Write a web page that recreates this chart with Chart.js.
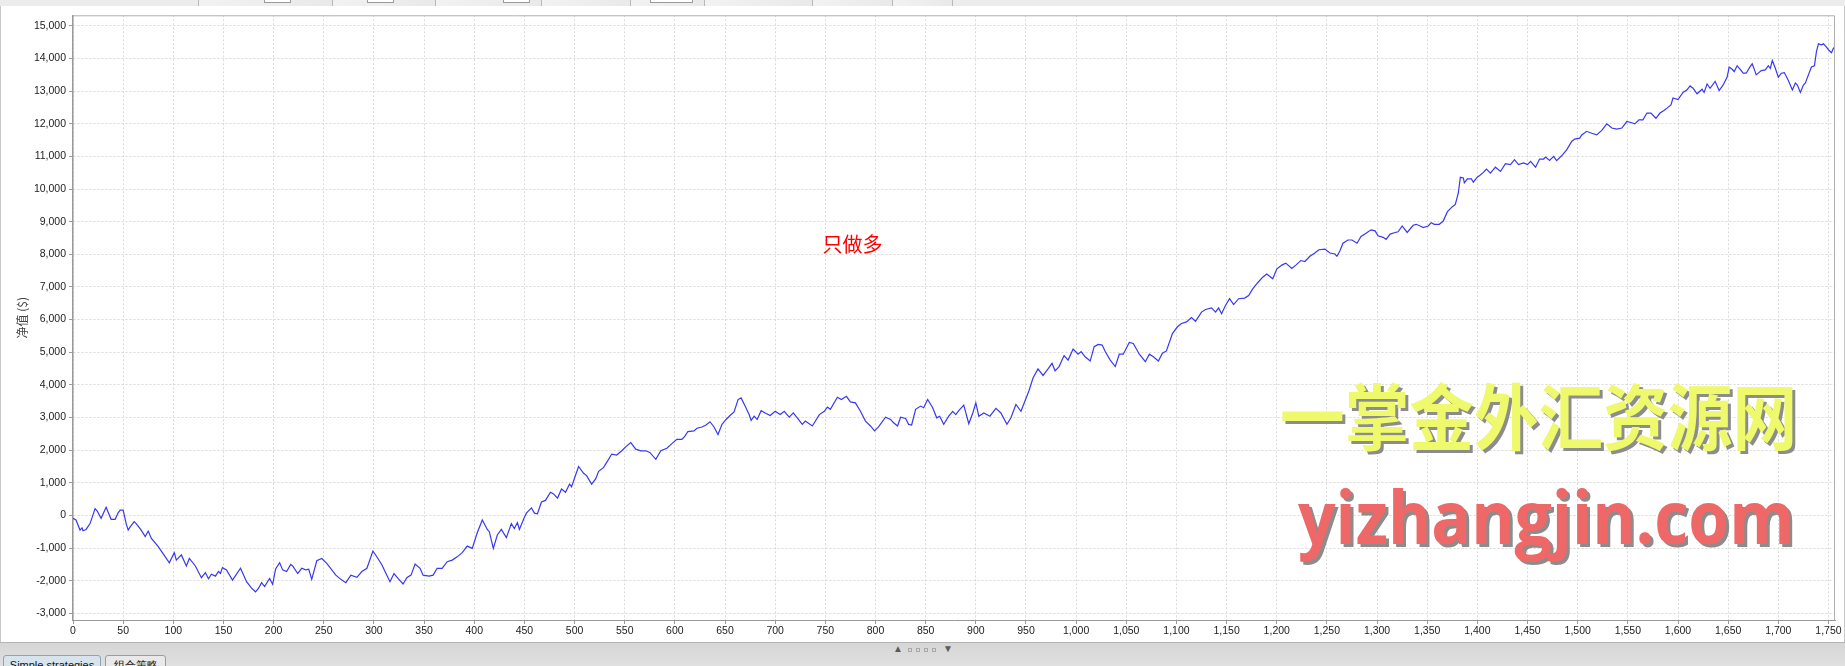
<!DOCTYPE html>
<html>
<head>
<meta charset="utf-8">
<title>净值</title>
<script src="https://cdn.jsdelivr.net/npm/chart.js@4.4.1/dist/chart.umd.min.js"></script>
<style>
  html, body { margin: 0; padding: 0; width: 1845px; height: 666px; overflow: hidden; background: #e4e4e4; font-family: "Liberation Sans", Arial, sans-serif; }
  #topbar { position: absolute; left: 0; top: 0; width: 1845px; height: 6px; background: #ececec; }
  .ttab { position: absolute; top: 0; height: 6px; border-left: 1px solid #b8b8b8; background: linear-gradient(90deg, #f2f2f2, #e9e9e9); box-sizing: border-box; }
  .tfield { position: absolute; top: 0; height: 2px; background: #fff; border: 1px solid #9a9a9a; border-top: none; }
  #panel { position: absolute; left: 0; top: 6px; width: 1845px; height: 636px; background: #fff; border-left: 1px solid #c8c8c8; border-right: 1px solid #c8c8c8; box-sizing: border-box; }
  #wrap { position: absolute; left: 0; top: 6px; width: 1845px; height: 636px; }
  #bottom { position: absolute; left: 0; top: 642px; width: 1845px; height: 24px; background: linear-gradient(#d6d6d6, #e0e0e0); border-top: 1px solid #b4b4b4; box-sizing: border-box; }
  .btab { position: absolute; top: 12px; height: 20px; border: 1px solid #9c9c9c; border-radius: 3px 3px 0 0; font-size: 11px; line-height: 14px; text-align: center; color: #111; box-sizing: border-box; padding-top: 2px; }
  .arrow { position: absolute; top: 1px; font-size: 10px; line-height: 10px; color: #5a5a5a; }
  .dot { position: absolute; top: 5px; width: 2px; height: 2px; border: 1px solid #a8a8a8; }
</style>
</head>
<body>
<div id="topbar">
  <div class="ttab" style="left:198px;width:134px"></div>
  <div class="ttab" style="left:332px;width:103px"></div>
  <div class="ttab" style="left:435px;width:106px"></div>
  <div class="ttab" style="left:541px;width:89px"></div>
  <div class="ttab" style="left:630px;width:74px"></div>
  <div class="ttab" style="left:704px;width:108px"></div>
  <div class="ttab" style="left:812px;width:80px"></div>
  <div class="ttab" style="left:892px;width:61px;border-right:1px solid #b8b8b8"></div>
  <div class="tfield" style="left:264px;width:25px"></div>
  <div class="tfield" style="left:367px;width:25px"></div>
  <div class="tfield" style="left:503px;width:25px"></div>
  <div class="tfield" style="left:650px;width:41px"></div>
</div>
<div id="panel"></div>
<div id="wrap"><canvas id="equityChart"></canvas></div>
<div id="bottom">
  <div class="arrow" style="left:893px">▲</div>
  <div class="dot" style="left:908px"></div>
  <div class="dot" style="left:916px"></div>
  <div class="dot" style="left:924px"></div>
  <div class="dot" style="left:932px"></div>
  <div class="arrow" style="left:943px">▼</div>
  <div class="btab" style="left:3px;width:98px;background:#d7e4ee;border-color:#8fa3b3">Simple strategies</div>
  <div class="btab" style="left:105px;width:61px;background:#e9e9e9">组合策略</div>
</div>
<script>
// 交易序号
const tradeNo = [
  0, 3, 7, 9, 10, 13, 17, 22, 24, 28, 33, 38, 42, 45, 47, 50, 53, 55, 57, 61,
  63, 68, 72, 75, 78, 85, 92, 96, 101, 103, 108, 113, 116, 122, 128, 132, 135, 138, 142, 145,
  147, 149, 153, 159, 167, 173, 178, 182, 185, 188, 191, 196, 199, 202, 206, 209, 213, 217, 219, 224,
  228, 232, 235, 238, 243, 248, 253, 262, 267, 272, 277, 283, 288, 293, 299, 304, 308, 312, 316, 320,
  324, 329, 333, 337, 341, 346, 349, 355, 359, 363, 368, 373, 378, 383, 388, 393, 398, 403, 408, 413,
  415, 419, 423, 427, 432, 437, 440, 443, 445, 450, 452, 457, 460, 463, 467, 471, 476, 479, 483, 487,
  491, 495, 497, 504, 509, 512, 517, 521, 524, 529, 533, 537, 542, 547, 552, 556, 561, 566, 571, 575,
  581, 586, 592, 597, 602, 607, 610, 613, 619, 622, 627, 631, 635, 639, 643, 647, 651, 655, 659, 663,
  666, 670, 674, 676, 679, 682, 686, 690, 695, 700, 705, 709, 714, 718, 722, 727, 730, 737, 744, 749,
  752, 755, 762, 766, 771, 775, 780, 785, 790, 795, 799, 803, 810, 815, 818, 822, 825, 830, 833, 836,
  840, 845, 848, 852, 857, 861, 864, 868, 873, 877, 880, 883, 888, 893, 897, 900, 903, 908, 914, 920,
  925, 931, 935, 940, 945, 953, 957, 962, 967, 972, 976, 979, 983, 988, 992, 997, 1002, 1005, 1009, 1014,
  1018, 1022, 1026, 1029, 1034, 1039, 1043, 1047, 1053, 1057, 1063, 1069, 1073, 1077, 1082, 1086, 1090, 1096, 1101, 1105,
  1110, 1115, 1119, 1125, 1129, 1135, 1139, 1142, 1145, 1149, 1153, 1157, 1162, 1168, 1172, 1176, 1181, 1186, 1190, 1196,
  1200, 1205, 1209, 1215, 1219, 1224, 1228, 1233, 1238, 1242, 1248, 1253, 1258, 1260, 1263, 1266, 1271, 1275, 1280, 1284,
  1289, 1294, 1298, 1301, 1306, 1309, 1313, 1318, 1321, 1325, 1330, 1336, 1339, 1343, 1346, 1351, 1354, 1357, 1362, 1366,
  1370, 1375, 1378, 1381, 1383, 1386, 1387, 1390, 1394, 1396, 1400, 1402, 1406, 1409, 1413, 1418, 1423, 1428, 1433, 1437,
  1441, 1446, 1450, 1453, 1458, 1462, 1466, 1468, 1472, 1476, 1479, 1484, 1489, 1494, 1497, 1502, 1504, 1509, 1514, 1519,
  1524, 1529, 1534, 1539, 1544, 1549, 1553, 1557, 1561, 1565, 1569, 1573, 1578, 1582, 1586, 1589, 1593, 1595, 1600, 1605,
  1609, 1612, 1615, 1619, 1624, 1626, 1629, 1632, 1637, 1641, 1645, 1649, 1651, 1654, 1656, 1659, 1662, 1665, 1668, 1672,
  1674, 1678, 1683, 1687, 1690, 1692, 1694, 1697, 1700, 1703, 1706, 1710, 1714, 1717, 1719, 1722, 1725, 1727, 1730, 1733,
  1736, 1738, 1740, 1743, 1745, 1748, 1750, 1753, 1755, 1756
];

// 净值 ($)
const netValue = [
  -90, -140, -450, -380, -470, -430, -250, 210, 140, -90, 250, -120, -120, 80, 160, 160, -250, -450, -350, -190,
  -250, -450, -650, -480, -700, -960, -1270, -1450, -1140, -1370, -1210, -1550, -1320, -1550, -1910, -1750, -1940, -1800, -1860, -1720,
  -1780, -1600, -1670, -1980, -1620, -2030, -2230, -2340, -2230, -2060, -2180, -1930, -2110, -1640, -1450, -1670, -1720, -1500, -1550, -1780,
  -1620, -1670, -1650, -1960, -1390, -1320, -1470, -1830, -1960, -2060, -1830, -1900, -1720, -1620, -1090, -1320, -1520, -1780, -2030, -1780,
  -1930, -2100, -1900, -1830, -1490, -1620, -1830, -1860, -1830, -1620, -1620, -1420, -1370, -1270, -1140, -940, -1010, -530, -140, -430,
  -500, -1010, -600, -430, -680, -250, -400, -220, -430, -60, 70, 230, 70, 50, 410, 460, 710, 660, 530, 810,
  710, 960, 880, 1500, 1290, 1220, 960, 1120, 1350, 1470, 1670, 1880, 1850, 1980, 2130, 2230, 2030, 1980, 1980, 1930,
  1720, 1980, 2060, 2200, 2330, 2330, 2430, 2570, 2590, 2670, 2710, 2770, 2870, 2710, 2480, 2790, 2940, 3060, 3170, 3550,
  3600, 3350, 3090, 2910, 3040, 2940, 3210, 3140, 3060, 3190, 3090, 3190, 3010, 3140, 2990, 2790, 2890, 2740, 3090, 3190,
  3320, 3250, 3620, 3550, 3650, 3480, 3450, 3190, 2890, 2740, 2590, 2710, 3010, 2940, 2840, 2740, 3010, 2970, 2790, 2770,
  3250, 3350, 3300, 3550, 3300, 2990, 3040, 2790, 3040, 3190, 3090, 3210, 3380, 2810, 3140, 3450, 3040, 3140, 3040, 3280,
  3140, 2790, 2990, 3400, 3190, 3820, 4210, 4490, 4290, 4490, 4660, 4430, 4560, 4900, 4760, 5100, 4940, 5020, 4860, 4730,
  5170, 5240, 5220, 5020, 4760, 4560, 4940, 4940, 5300, 5270, 4940, 4710, 4940, 4860, 4730, 4970, 5040, 5570, 5780, 5880,
  5930, 6060, 5950, 6230, 6310, 6360, 6230, 6360, 6180, 6440, 6640, 6460, 6640, 6660, 6740, 6940, 7130, 7300, 7400, 7250,
  7550, 7670, 7730, 7570, 7670, 7810, 7780, 7940, 8040, 8140, 8160, 8040, 8010, 7940, 8110, 8340, 8440, 8440, 8340, 8550,
  8650, 8750, 8720, 8570, 8520, 8460, 8620, 8670, 8690, 8870, 8670, 8890, 8920, 8870, 8820, 8870, 8970, 8920, 8920, 9020,
  9300, 9460, 9530, 9880, 10360, 10340, 10190, 10310, 10310, 10210, 10370, 10410, 10510, 10610, 10490, 10670, 10540, 10780, 10750, 10900,
  10750, 10800, 10750, 10850, 10670, 10920, 10920, 10980, 10880, 11000, 10870, 11020, 11200, 11460, 11530, 11560, 11660, 11770, 11710, 11660,
  11800, 12000, 11870, 11840, 11870, 12070, 12040, 12000, 12120, 12120, 12330, 12330, 12170, 12330, 12410, 12480, 12580, 12790, 12740, 12960,
  13040, 13160, 13090, 12920, 13060, 12960, 13220, 13090, 13300, 13020, 13190, 13430, 13740, 13670, 13600, 13780, 13670, 13550, 13550, 13760,
  13840, 13500, 13630, 13650, 13780, 13700, 13940, 13700, 13430, 13550, 13570, 13330, 13040, 13250, 13190, 12960, 13190, 13250, 13500, 13740,
  13780, 14210, 14450, 14420, 14450, 14350, 14270, 14180, 14320, 14290
];

const xTicks = [0, 50, 100, 150, 200, 250, 300, 350, 400, 450, 500, 550, 600, 650, 700, 750, 800, 850,
  900, 950, 1000, 1050, 1100, 1150, 1200, 1250, 1300, 1350, 1400, 1450, 1500, 1550, 1600, 1650, 1700, 1750];
const yTicks = [-3000, -2000, -1000, 0, 1000, 2000, 3000, 4000, 5000, 6000, 7000, 8000, 9000,
  10000, 11000, 12000, 13000, 14000, 15000];

const yTitle = "净值 ($)";
const noteText = "只做多";
const noteAt = [777, 8290];
const watermarkCn = "一掌金外汇资源网";
const watermarkUrl = "yizhangjin.com";

const tickFont = { family: '"Liberation Sans", Arial, sans-serif', size: 10.5 };

// 画框线、注释、水印
const overlayPlugin = {
  id: "overlay",
  afterDraw(chart) {
    const { ctx, chartArea: a, scales } = chart;
    ctx.save();

    ctx.strokeStyle = "#b0b0b0";
    ctx.lineWidth = 1;
    ctx.beginPath();
    ctx.moveTo(a.left, a.top + 0.5);
    ctx.lineTo(a.right - 0.5, a.top + 0.5);
    ctx.lineTo(a.right - 0.5, a.bottom);
    ctx.stroke();

    ctx.fillStyle = "#ff0000";
    ctx.font = '20px "Noto Sans CJK SC", sans-serif';
    ctx.textAlign = "center";
    ctx.textBaseline = "middle";
    ctx.fillText(noteText, scales.x.getPixelForValue(noteAt[0]), scales.y.getPixelForValue(noteAt[1]));

    ctx.save();
    ctx.translate(22, (a.top + a.bottom) / 2);
    ctx.rotate(-Math.PI / 2);
    ctx.fillStyle = "#444";
    ctx.font = '12px "Noto Sans CJK SC", sans-serif';
    ctx.fillText(yTitle, 0, 0);
    ctx.restore();

    drawStretched(ctx, watermarkCn, 'bold 72px "Noto Sans CJK SC", sans-serif', 1280, 411, 517, "middle", "#eef96c");
    drawStretched(ctx, watermarkUrl, 'bold 74px "Open Sans", sans-serif', 1298, 538, 496, "alphabetic", "#ee6868");

    ctx.restore();
  }
};

function drawStretched(ctx, text, font, left, y, width, baseline, color) {
  ctx.save();
  ctx.font = font;
  ctx.textAlign = "left";
  ctx.textBaseline = baseline;
  const k = width / ctx.measureText(text).width;
  ctx.translate(left, y);
  ctx.scale(k, 1);
  ctx.fillStyle = "#8c8c8c";
  ctx.fillText(text, 3 / k, 3);
  ctx.fillStyle = color;
  ctx.fillText(text, 0, 0);
  ctx.restore();
}

const points = tradeNo.map((n, i) => ({ x: n, y: netValue[i] }));

new Chart(document.getElementById("equityChart"), {
  type: "line",
  data: {
    datasets: [{
      label: yTitle,
      data: points,
      borderColor: "#3838f2",
      borderWidth: 1.2,
      pointRadius: 0,
      fill: false,
      tension: 0
    }]
  },
  options: {
    responsive: true,
    maintainAspectRatio: false,
    animation: false,
    layout: { padding: { top: 6, right: 10, left: 0, bottom: 0 } },
    plugins: { legend: { display: false }, tooltip: { enabled: false } },
    scales: {
      x: {
        type: "linear",
        min: 0,
        max: 1756.5,
        afterBuildTicks: s => { s.ticks = xTicks.map(v => ({ value: v })); },
        afterFit: s => { s.height = 22; },
        ticks: { autoSkip: false, maxRotation: 0, padding: 1, color: "#222", font: tickFont,
          callback: v => v.toLocaleString("en-US") },
        grid: { color: "#d9d9d9", lineWidth: 1, tickLength: 4, tickColor: "#999", tickBorderDash: [] },
        border: { color: "#999", width: 1, dash: [2, 2] }
      },
      y: {
        min: -3205,
        max: 15325,
        afterBuildTicks: s => { s.ticks = yTicks.map(v => ({ value: v })); },
        afterFit: s => { s.width = 73; },
        ticks: { padding: 3, color: "#222", font: tickFont,
          callback: v => v.toLocaleString("en-US") },
        grid: { color: "#d9d9d9", lineWidth: 1, tickLength: 4, tickColor: "#999", tickBorderDash: [] },
        border: { color: "#999", width: 1.5, dash: [2, 2] }
      }
    }
  },
  plugins: [overlayPlugin]
});
</script>
</body>
</html>
